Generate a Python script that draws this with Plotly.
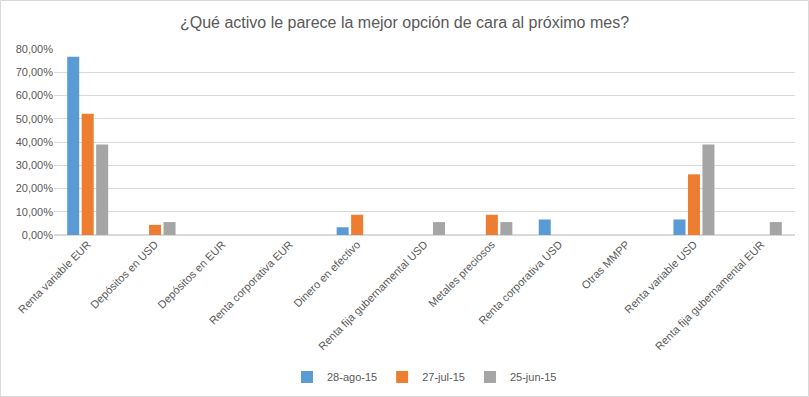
import plotly.graph_objects as go

categories = ["Renta variable EUR", "Depósitos en USD", "Depósitos en EUR", "Renta corporativa EUR",
              "Dinero en efectivo", "Renta fija gubernamental USD", "Metales preciosos",
              "Renta corporativa USD", "Otras MMPP", "Renta variable USD", "Renta fija gubernamental EUR"]
series_names = ["28-ago-15", "27-jul-15", "25-jun-15"]
ago15 = [0.7667, 0, 0, 0, 0.0333, 0, 0, 0.0667, 0, 0.0667, 0]
jul15 = [0.5217, 0.0435, 0, 0, 0.0870, 0, 0.0870, 0, 0, 0.2609, 0]
jun15 = [0.3889, 0.0556, 0, 0, 0, 0.0556, 0.0556, 0, 0, 0.3889, 0.0556]
colors = ["#5B9BD5", "#ED7D31", "#A5A5A5"]

W, H = 809, 397
ml, mr, mt, mb = 54, 14, 49, 162
pw, ph = W - ml - mr, H - mt - mb

fig = go.Figure()
for name, vals, c in zip(series_names, [ago15, jul15, jun15], colors):
    fig.add_trace(go.Bar(x=categories, y=vals, name=name, marker_color=c, marker_line_width=0))

font = "Liberation Sans, sans-serif"
fig.update_layout(
    width=W, height=H,
    margin=dict(l=ml, r=mr, t=mt, b=mb, autoexpand=False),
    paper_bgcolor="white", plot_bgcolor="white",
    separators=",.",
    bargap=0.355, bargroupgap=0.17,
    title=dict(text="¿Qué activo le parece la mejor opción de cara al próximo mes?",
               x=0.5, xanchor="center", y=1 - 22 / H, yanchor="middle",
               font=dict(family=font, size=16, color="#595959")),
    font=dict(family=font, size=11, color="#595959"),
    showlegend=True,
    legend=dict(orientation="h", x=0.5, xanchor="center", y=-(377 - mt - ph) / ph, yanchor="middle",
                font=dict(size=11, color="#595959"), itemwidth=30, traceorder="normal"),
    xaxis=dict(tickangle=-45, showgrid=False, showline=False, ticks="", automargin=False,
               tickfont=dict(size=11, color="#595959")),
    yaxis=dict(range=[0, 0.8], dtick=0.1, tickformat=".2%", showgrid=True, gridcolor="#D9D9D9",
               gridwidth=1, zeroline=True, zerolinecolor="#D9D9D9", showline=False, ticks="",
               automargin=False, tickfont=dict(size=11, color="#595959")),
    shapes=[dict(type="rect", xref="paper", yref="paper",
                 x0=-(ml - 0.5) / pw, x1=(W - ml - 0.5) / pw,
                 y0=-(mb - 0.5) / ph, y1=(H - mb - 0.5) / ph,
                 line=dict(color="#D9D9D9", width=1))],
)
fig.write_html("out.html", config={"displayModeBar": False},
               post_script="document.body.style.margin='0';document.body.style.overflow='hidden';")
